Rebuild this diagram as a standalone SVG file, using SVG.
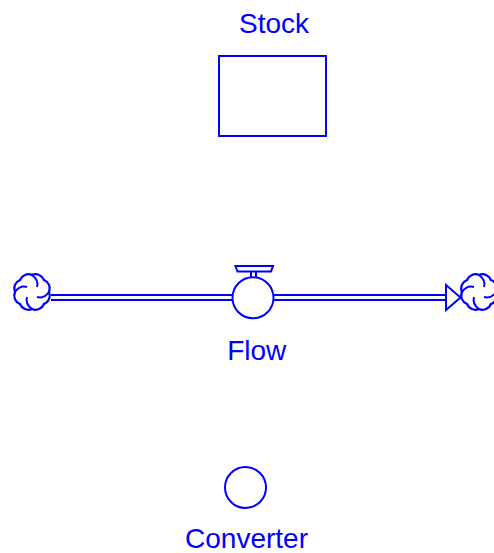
<svg xmlns="http://www.w3.org/2000/svg" xmlns:xlink="http://www.w3.org/1999/xlink" width="494" height="553" viewBox="0 0 494 553">
<style>
.s{fill:none;stroke:#0000ff;stroke-width:2}
.w{fill:#ffffff;stroke:#0000ff;stroke-width:2}
.c{fill:#ffffff;stroke:#0000ff;stroke-width:2.3}
.p{fill:none;stroke:#0000ff;stroke-width:1.8}
.t{font-family:"Liberation Sans",Arial,sans-serif;font-size:28px;fill:#0000ff;text-anchor:middle}
</style>
<defs>
<g id="cloud">
<path class="c" d="M17,0 A9 9 0 0 1 12,12 A9 9 0 0 1 0,17 A9 9 0 0 1 -12,12 A9 9 0 0 1 -17,0 A9 9 0 0 1 -12,-12 A9 9 0 0 1 0,-17 A9 9 0 0 1 12,-12 A9 9 0 0 1 17,0 Z"/>
<path class="s" d="M0,-17 Q7,-12 5,-5"/>
<path class="s" d="M0,-17 Q7,-12 5,-5" transform="rotate(90)"/>
<path class="s" d="M0,-17 Q7,-12 5,-5" transform="rotate(180)"/>
<path class="s" d="M0,-17 Q7,-12 5,-5" transform="rotate(270)"/>
</g>
</defs>
<g id="connectors">
<line class="p" x1="51" y1="295" x2="447" y2="295"/>
<line class="p" x1="51" y1="300" x2="447" y2="300"/>
<polygon class="w" points="446,285 460.5,297.5 446,310"/>
</g>
<g id="stock">
<rect class="s" x="219" y="56" width="107" height="80"/>
<text class="t" x="274" y="33">Stock</text>
</g>
<g id="source-cloud">
<use xlink:href="#cloud" transform="translate(32,292)"/>
</g>
<g id="sink-cloud">
<use xlink:href="#cloud" transform="translate(479,292)"/>
</g>
<g id="flow">
<path class="w" d="M235.5,266 L273,266 L271,271.5 L237.5,271.5 Z"/>
<path class="s" d="M251,271.5 V278 M256,271.5 V278"/>
<circle class="w" cx="253" cy="297.7" r="20.5"/>
<text class="t" x="256.7" y="360">Flow</text>
</g>
<g id="converter">
<circle class="s" cx="245.5" cy="487.5" r="20.5"/>
<text class="t" x="246.5" y="548">Converter</text>
</g>
</svg>
